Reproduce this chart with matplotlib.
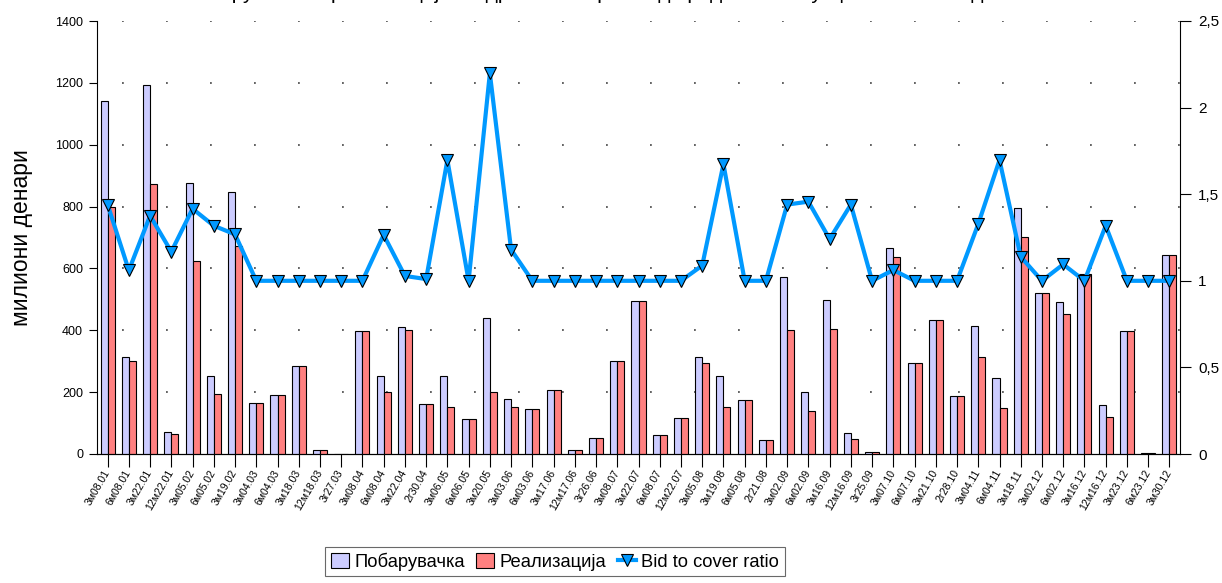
import matplotlib
matplotlib.use("Agg")
import matplotlib.pyplot as plt
from matplotlib.lines import Line2D
from matplotlib.patches import Patch
import numpy as np

plt.rcParams['font.family'] = ['Liberation Sans', 'DejaVu Sans']

categories = ["3м08.01", "6м08.01", "3м22.01", "12м22.01", "3м05.02", "6м05.02", "3м19.02",
              "3м04.03", "6м04.03", "3м18.03", "12м18.03", "3г27.03", "3м08.04", "6м08.04",
              "3м22.04", "2г30.04", "3м06.05", "6м06.05", "3м20.05", "3м03.06", "6м03.06",
              "3м17.06", "12м17.06", "3г26.06", "3м08.07", "3м22.07", "6м08.07", "12м22.07",
              "3м05.08", "3м19.08", "6м05.08", "2г21.08", "3м02.09", "6м02.09", "3м16.09",
              "12м16.09", "3г25.09", "3м07.10", "6м07.10", "3м21.10", "2г28.10", "3м04.11",
              "6м04.11", "3м18.11", "3м02.12", "6м02.12", "3м16.12", "12м16.12", "3м23.12",
              "6м23.12", "3м30.12"]

demand = [1141, 315, 1192, 72, 876, 253, 846, 164, 190, 284, 14, 0, 397, 253, 410, 163, 253,
          114, 440, 177, 147, 206, 12, 53, 300, 495, 61, 115, 315, 251, 175, 46, 572, 200,
          499, 69, 8, 665, 294, 434, 186, 415, 247, 794, 519, 493, 581, 157, 399, 4, 642]

realized = [800, 300, 874, 64, 624, 193, 674, 164, 190, 284, 14, 0, 397, 200, 401, 163, 152,
            114, 200, 152, 147, 206, 12, 53, 300, 495, 61, 115, 294, 151, 175, 46, 401, 139,
            405, 48, 8, 636, 294, 434, 186, 314, 148, 702, 519, 452, 581, 121, 399, 4, 642]

ratio = [1.44, 1.06, 1.376, 1.168, 1.416, 1.318, 1.268, 1.0, 1.0, 1.0, 1.0, 1.0, 1.0, 1.265,
         1.028, 1.01, 1.697, 1.0, 2.198, 1.18, 1.0, 1.0, 1.0, 1.0, 1.0, 1.0, 1.0, 1.0, 1.088,
         1.674, 1.0, 1.0, 1.44, 1.457, 1.241, 1.44, 1.0, 1.062, 1.0, 1.0, 1.0, 1.328, 1.697,
         1.139, 1.0, 1.095, 1.0, 1.318, 1.0, 1.0, 1.0]

left_ticks = [0, 200, 400, 600, 800, 1000, 1200, 1400]
right_ticks = [0, 0.5, 1, 1.5, 2, 2.5]
right_ticklabels = ["0", "0,5", "1", "1,5", "2", "2,5"]

series_names = ["Побарувачка", "Реализација", "Bid to cover ratio"]
ylabel = "милиони денари"
title = "Побарувачка и реализација на државни хартии од вредност по аукции во 2008 година"

c_blue = "#CCCCFF"
c_red = "#FF8080"
c_line = "#0099FF"

fig = plt.figure(figsize=(12.22, 5.83), dpi=100)
ax = fig.add_axes([97/1222, 1-454/583, (1180-97)/1222, (454-21)/583])
ax2 = ax.twinx()

x = np.arange(len(categories))
w = 0.33
ax.bar(x - w/2, demand, width=w, color=c_blue, edgecolor="black", linewidth=0.8, zorder=3)
ax.bar(x + w/2, realized, width=w, color=c_red, edgecolor="black", linewidth=0.8, zorder=3)

ax.set_xlim(-0.5, len(categories) - 0.5)
ax.set_ylim(0, 1400)
ax.set_yticks(left_ticks)
ax.set_xticks(x)
ax.set_xticklabels(categories, rotation=60, ha="right", va="center",
                   rotation_mode="anchor", fontsize=7.5)
ax.tick_params(axis="x", length=9, width=0.8, pad=3)
ax.tick_params(axis="y", length=6, width=0.8, labelsize=9, pad=4)
for yv in left_ticks[1:]:
    ax.axhline(yv, color="#222222", linewidth=1.2,
               linestyle=(11.3, (0.9, 25.5)), zorder=1)
ax.spines["top"].set_visible(False)
ax.spines["right"].set_visible(False)
ax.set_ylabel(ylabel, fontsize=16.5, labelpad=16)

ax2.plot(x, ratio, color=c_line, linewidth=3, marker="v", markersize=9,
         markerfacecolor=c_line, markeredgecolor="black", markeredgewidth=0.8, zorder=4)
ax2.set_ylim(0, 2.5)
ax2.set_yticks(right_ticks)
ax2.set_yticklabels(right_ticklabels)
ax2.tick_params(axis="y", length=8, width=0.8, labelsize=11, pad=5)
ax2.spines["top"].set_visible(False)
ax2.spines["left"].set_visible(False)

handles = [Patch(facecolor=c_blue, edgecolor="black", linewidth=0.8),
           Patch(facecolor=c_red, edgecolor="black", linewidth=0.8),
           Line2D([0], [0], color=c_line, linewidth=3, marker="v", markersize=8,
                  markerfacecolor=c_line, markeredgecolor="black", markeredgewidth=0.8)]
leg = fig.legend(handles, series_names, loc="upper center", ncol=3,
                 bbox_to_anchor=(555/1222, 1-538/583), fontsize=13.2, frameon=True,
                 fancybox=False, edgecolor="#444444", handlelength=1.0, handleheight=0.9,
                 handletextpad=0.3, columnspacing=0.6, borderpad=0.3)
leg.get_frame().set_linewidth(0.8)

fig.text(600/1222, 1 + 1/583, title, ha="center", va="baseline", fontsize=15)

fig.savefig("out.png", dpi=100)
